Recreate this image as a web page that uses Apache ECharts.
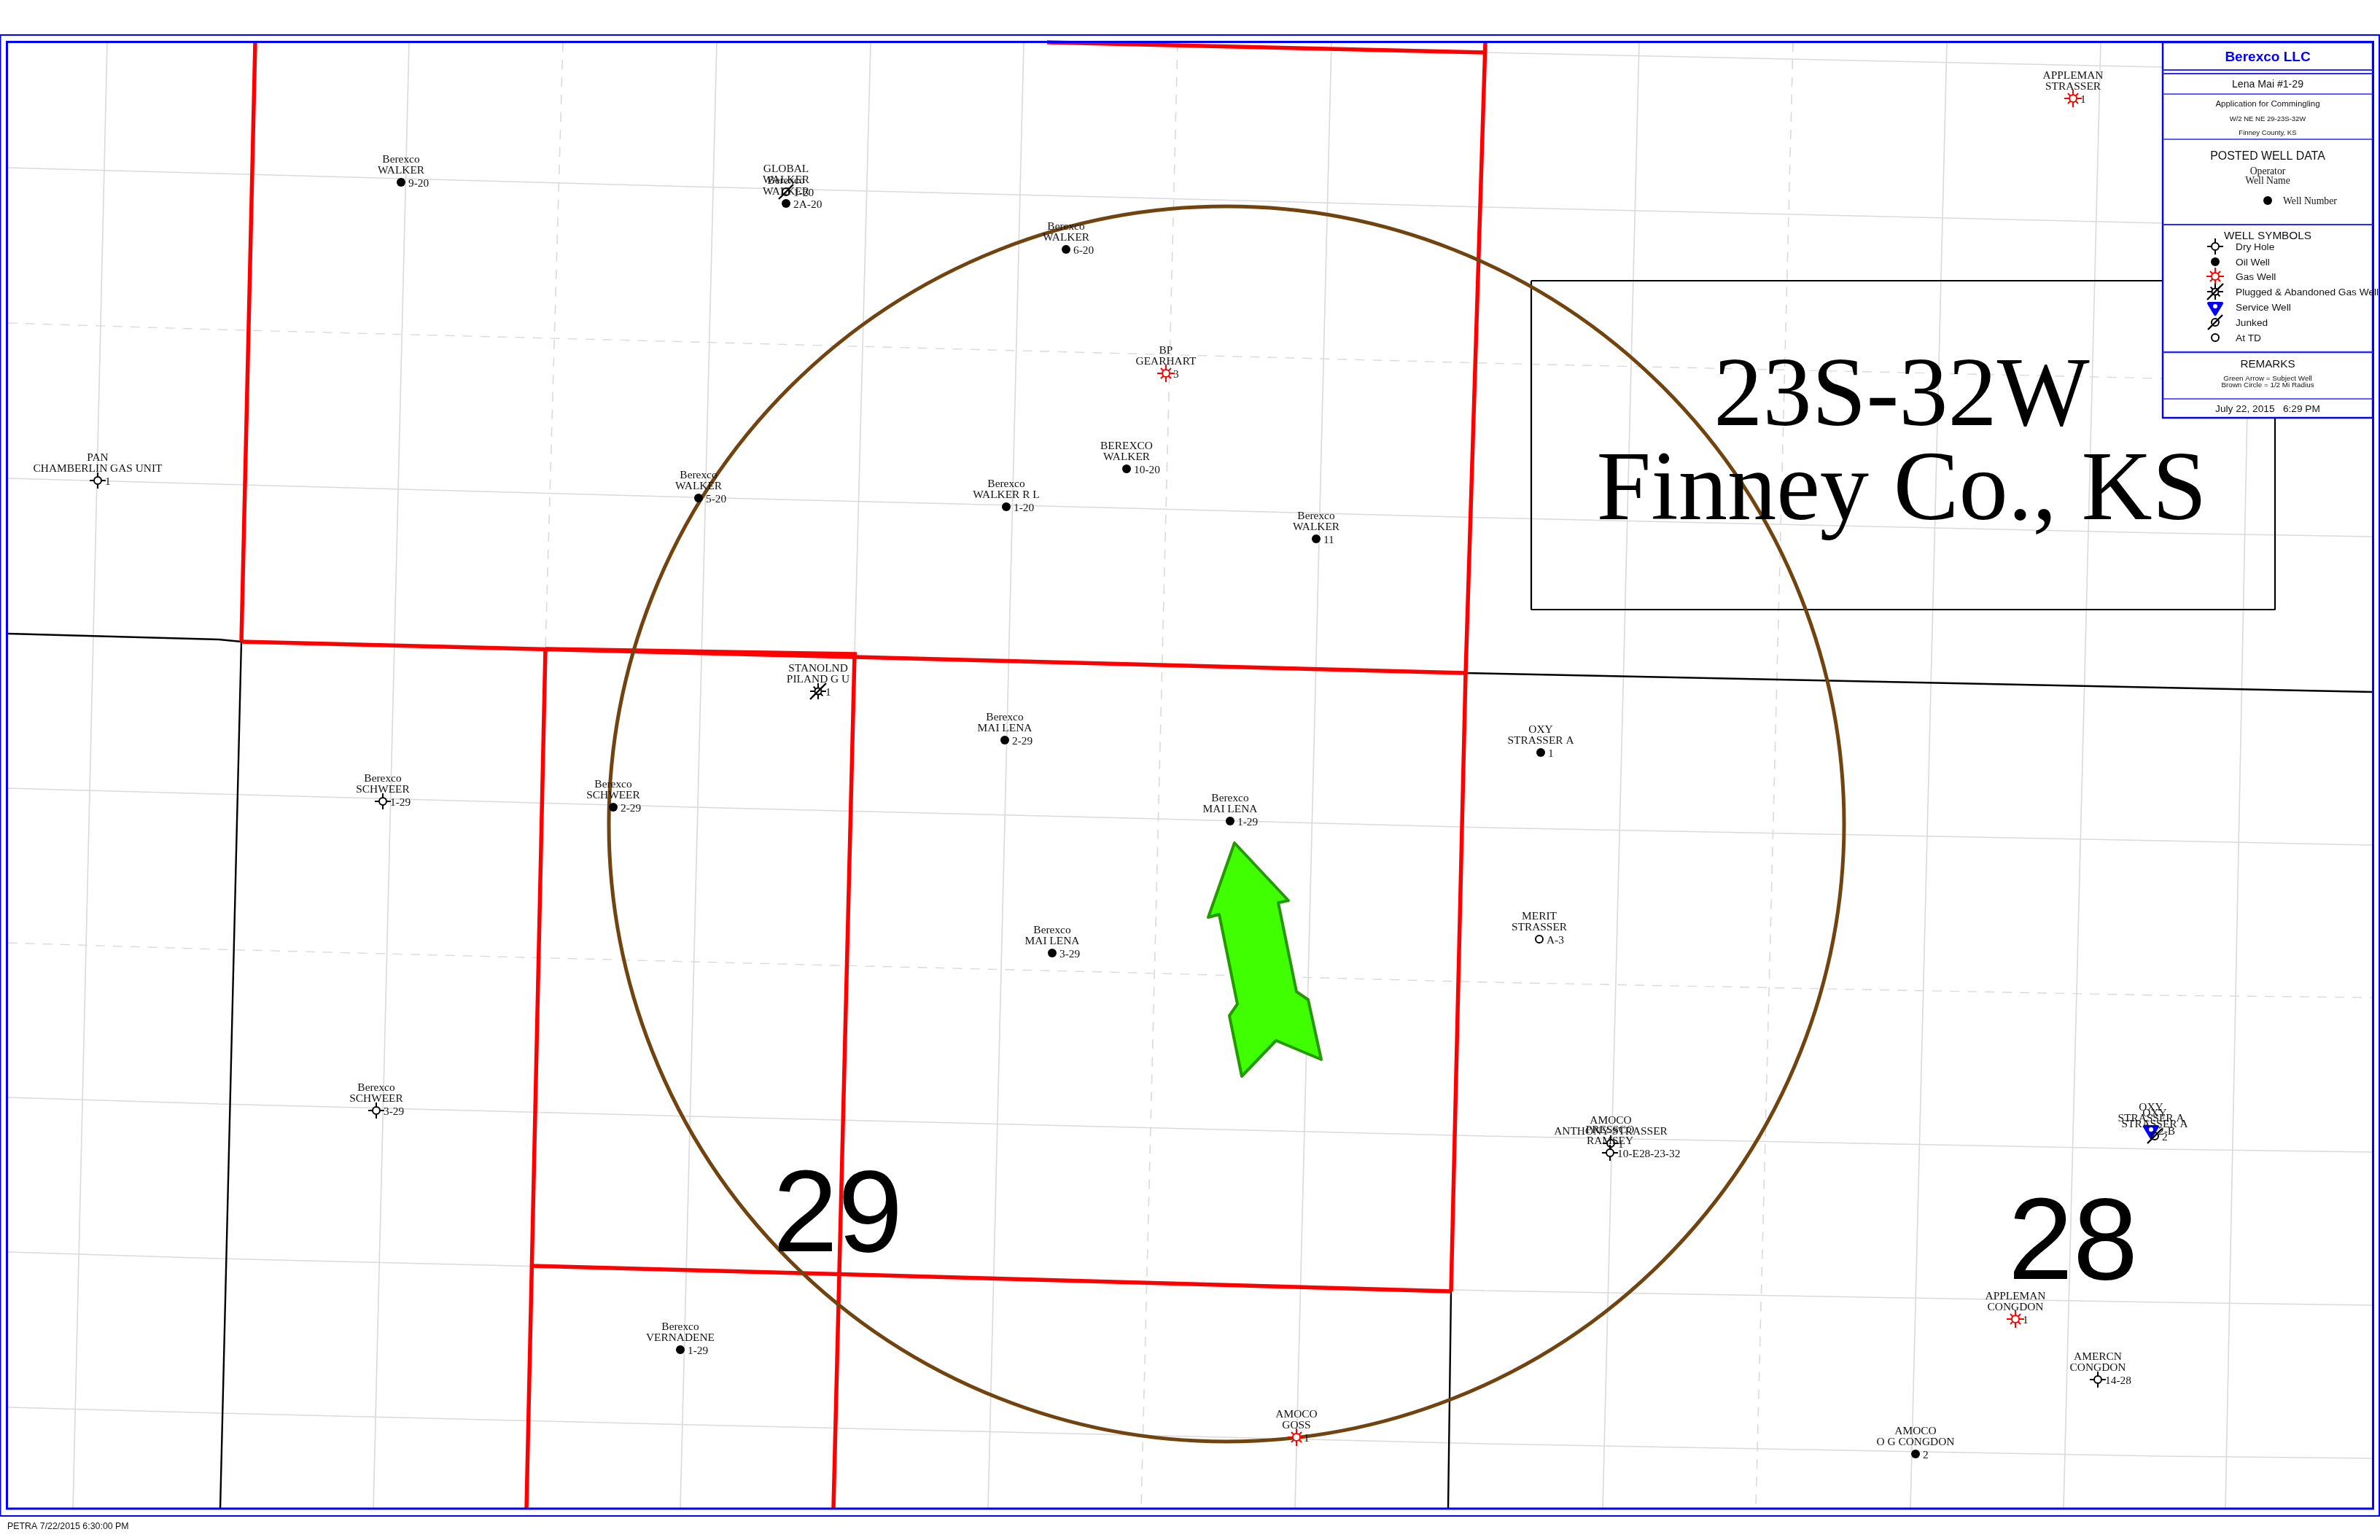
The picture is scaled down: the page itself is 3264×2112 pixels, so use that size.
<!DOCTYPE html>
<html>
<head>
<meta charset="utf-8">
<title>Lena Mai #1-29</title>
<style>html,body{margin:0;padding:0;background:#fff}#c{width:3264px;height:2112px}</style>
<script src="https://cdn.jsdelivr.net/npm/echarts@6/dist/echarts.min.js"></script>
</head>
<body>
<div id="c"></div>
<script>
// ---------- map values (map units = sheet pixels) ----------
const rowX = [11, 300, 950, 1550, 2037, 2964, 3254];
const rowSolid0 = [230, 238, 256, 271, 284, 306, 311];
const rowDash1  = [443, 452, 469, 485, 498, 519, 524];
const rowSolid2 = [656, 664, 682, 697, 710, 731, 736];
const rowSolid4 = [1081, 1089, 1107, 1122, 1135, 1153, 1159];
const rowDash5  = [1293, 1302, 1319, 1334, 1347, 1365, 1368];
const rowSolid6 = [1505, 1514, 1531, 1546, 1558, 1576, 1580];
const rowSolid7 = [1717, 1726, 1742, 1757, 1770, 1786, 1790];
const rowSolid8 = [1930, 1938, 1954, 1968, 1980, 1997, 2000];
const rowTopGray = [[2037, 72], [2964, 92], [3254, 97]];

const colTopX    = [147, 350, 561, 772, 983, 1194, 1404, 1615, 1826, 2037, 2248, 2459, 2670, 2881, 3092];
const colBottomX = [100, 302, 512, 722, 933, 1143, 1355, 1565, 1776, 1986, 2198, 2408, 2620, 2830, 3052];
const colStyles  = ['s', 'section', 's', 'redLower', 's', 'redLower2', 's', 'd', 's', 'section2', 's', 'd', 's', 's', 's'];

const redLines = [
  [[350, 58], [331, 880]],
  [[331, 880], [1172, 901], [2010, 923]],
  [[748, 890], [1175, 897]],
  [[2037, 58], [2010, 923], [1990, 1771]],
  [[1436, 58], [2037, 72]],
  [[748, 890], [722, 2069]],
  [[1172, 897], [1143, 2069]],
  [[729, 1736], [1172, 1748], [1990, 1771]]
];
const blackLines = [
  [[331, 880], [302, 2069]],
  [[1990, 1771], [1986, 2069]],
  [[11, 869], [300, 877], [331, 880]],
  [[2010, 923], [2964, 943], [3254, 949]]
];
const textBoxCorners = [[2100, 385], [3120, 385], [3120, 836], [2100, 836], [2100, 385]];

const radiusCircleCenter = [1682, 1130];
const radiusCircleRadius = [847];

const arrowX = [1693, 1767, 1753, 1778, 1794, 1812, 1750, 1703, 1686, 1697, 1672, 1657];
const arrowY = [1156, 1235, 1238, 1360, 1371, 1453, 1427, 1476, 1393, 1377, 1254, 1258];

const mapLabelTexts = ['23S-32W', 'Finney Co., KS', '29', '28'];
const mapLabelX = [2608, 2608, 1149, 2843];
const mapLabelY = [546, 675, 1670, 1708];

const wellOperators = ['Berexco','GLOBAL','Berexco','Berexco','BP','APPLEMAN','PAN','Berexco','Berexco','BEREXCO','Berexco','STANOLND','Berexco','OXY','Berexco','Berexco','Berexco','Berexco','MERIT','Berexco','AMOCO','PRESSCO','OXY','OXY','Berexco','AMOCO','APPLEMAN','AMERCN','AMOCO'];
const wellNames = ['WALKER','WALKER','WALKER','WALKER','GEARHART','STRASSER','CHAMBERLIN GAS UNIT','WALKER','WALKER R L','WALKER','WALKER','PILAND G U','MAI LENA','STRASSER A','MAI LENA','SCHWEER','SCHWEER','MAI LENA','STRASSER','SCHWEER','ANTHONY-STRASSER','RAMSEY','STRASSER A','STRASSER A','VERNADENE','GOSS','CONGDON','CONGDON','O G CONGDON'];
const wellNumbers = ['9-20','1-20','2A-20','6-20','3','1','1','5-20','1-20','10-20','11','1','2-29','1','1-29','1-29','2-29','3-29','A-3','3-29','1','10-E28-23-32','2-B','2','1-29','1','1','14-28','2'];
const wellTypes = ['oil','junked','oil','oil','gas','gas','dry','oil','oil','oil','oil','pagas','oil','oil','oil','dry','oil','oil','td','dry','dry','dry','service','junked','oil','gas','gas','dry','oil'];
const wellX = [550,1078,1078,1462,1599,2843,134,958,1380,1545,1805,1122,1378,2113,1687,525,841,1443,2111,516,2209,2208,2950,2955,933,1778,2764,2877,2627];
const wellY = [250,263,279,342,512,135,659,683,695,643,739,948,1015,1032,1126,1099,1107,1307,1288,1523,1568,1581,1550,1558,1851,1971,1809,1892,1994];

// ---------- text of the title block ----------
const titleCompany = 'Berexco LLC';
const titleWell = 'Lena Mai #1-29';
const titleLines = ['Application for Commingling', 'W/2 NE NE 29-23S-32W', 'Finney County, KS'];
const postedTitle = 'POSTED WELL DATA';
const postedLines = ['Operator', 'Well Name', 'Well Number'];
const symbolsTitle = 'WELL SYMBOLS';
const symbolNames = ['Dry Hole', 'Oil Well', 'Gas Well', 'Plugged & Abandoned Gas Well', 'Service Well', 'Junked', 'At TD'];
const symbolTypes = ['dry', 'oil', 'gas', 'pagas', 'service', 'junked', 'td'];
const remarksTitle = 'REMARKS';
const remarksLines = ['Green Arrow = Subject Well', 'Brown Circle = 1/2 Mi Radius'];
const dateLine = 'July 22, 2015   6:29 PM';
const footerLine = 'PETRA 7/22/2015 6:30:00 PM';

// ---------- styles ----------
const GRAY = '#dadada', RED = '#ff0000', BLUE = '#0000ff', BROWN = '#71430f', BLACK = '#000000', INK = '#111111';
const SERIF = '"Liberation Serif", serif', SANS = '"Liberation Sans", sans-serif';

function seg(x1, y1, x2, y2, color, w) {
  return { type: 'line', shape: { x1, y1, x2, y2 }, style: { stroke: color, lineWidth: w, fill: null } };
}
function ring(r, color, w, fill) {
  return { type: 'circle', shape: { cx: 0, cy: 0, r }, style: { stroke: color, lineWidth: w, fill: fill || '#ffffff' } };
}
function rays(color, w, a, b) {
  const s = 0.707 * (b - 2), t = 0.707 * a;
  return [
    seg(-b, 0, -a, 0, color, w), seg(a, 0, b, 0, color, w), seg(0, -b, 0, -a, color, w), seg(0, a, 0, b, color, w),
    seg(-s, -s, -t, -t, color, w), seg(t, t, s, s, color, w), seg(s, -s, t, -t, color, w), seg(-t, t, -s, s, color, w)
  ];
}
function wellSymbol(type) {
  switch (type) {
    case 'oil': return [{ type: 'circle', shape: { cx: 0, cy: 0, r: 6 }, style: { fill: BLACK } }];
    case 'td': return [ring(5, BLACK, 2)];
    case 'dry': return [seg(-11, 0, -5, 0, BLACK, 2), seg(5, 0, 11, 0, BLACK, 2), seg(0, -11, 0, -5, BLACK, 2), seg(0, 5, 0, 11, BLACK, 2), ring(5, BLACK, 2)];
    case 'gas': return rays(RED, 2, 5, 12).concat([ring(5, RED, 2)]);
    case 'pagas': return rays(BLACK, 2, 5, 11).concat([ring(4.5, BLACK, 2), seg(-11, 11, 11, -11, BLACK, 2.4)]);
    case 'junked': return [ring(5, BLACK, 2, 'rgba(255,255,255,0)'), seg(-10, 10, 10, -10, BLACK, 2.4)];
    case 'service': return [
      { type: 'polygon', shape: { points: [[-9, -5], [9, -5], [0, 10]] }, style: { fill: BLUE, stroke: BLUE, lineWidth: 4, lineJoin: 'round' } },
      { type: 'circle', shape: { cx: 0, cy: -1, r: 3 }, style: { fill: '#ffffff' } }
    ];
  }
  return [];
}
function txt(text, x, y, size, family, fill, align, weight) {
  return { type: 'text', x: 0, y: 0, style: { text, x, y: y + 1.5, fontSize: size, fontFamily: family, fontWeight: weight || 'normal', fill: fill || INK, align: align || 'center', verticalAlign: 'middle' } };
}
function withZ(el, z) {
  el.z = z; el.silent = true;
  if (el.children) el.children.forEach(c => withZ(c, z));
  return el;
}

// ---------- series ----------
const series = [];
function addLine(points, color, width, dash, z) {
  series.push({ type: 'line', data: points, symbol: 'none', silent: true, z, animation: false, clip: false,
    lineStyle: { color, width, type: dash ? [13, 11] : 'solid', cap: 'butt' } });
}
function rowPts(ys) { return rowX.map((x, i) => [x, ys[i]]); }

[rowSolid0, rowSolid2, rowSolid4, rowSolid6, rowSolid7, rowSolid8].forEach(r => addLine(rowPts(r), GRAY, 1.4, false, 2));
[rowDash1, rowDash5].forEach(r => addLine(rowPts(r), GRAY, 1.4, true, 2));
addLine(rowTopGray, GRAY, 1.4, false, 2);

colTopX.forEach((tx, i) => {
  const bx = colBottomX[i], st = colStyles[i];
  if (st === 's') addLine([[tx, 58], [bx, 2069]], GRAY, 1.6, false, 2);
  if (st === 'd') addLine([[tx, 58], [bx, 2069]], GRAY, 1.6, true, 2);
  if (st === 'redLower') addLine([[tx, 58], [748, 890]], GRAY, 1.6, true, 2);
  if (st === 'redLower2') addLine([[tx, 58], [1172, 897]], GRAY, 1.6, false, 2);
});

blackLines.forEach(l => addLine(l, BLACK, 2.4, false, 3));
addLine(textBoxCorners, BLACK, 2.2, false, 3);
redLines.forEach(l => addLine(l, RED, 5.5, false, 4));

series.push({
  type: 'custom', z: 5, silent: true, animation: false, clip: false,
  data: [[radiusCircleCenter[0], radiusCircleCenter[1], radiusCircleRadius[0]]],
  renderItem(p, api) {
    const c = api.coord([api.value(0), api.value(1)]);
    const r = api.size([api.value(2), 0])[0];
    return { type: 'circle', shape: { cx: c[0], cy: c[1], r }, style: { fill: 'rgba(0,0,0,0)', stroke: BROWN, lineWidth: 5 } };
  }
});

series.push({
  type: 'custom', z: 6, silent: true, animation: false, clip: false,
  data: arrowX.map((x, i) => [x, arrowY[i]]),
  renderItem(p, api) {
    if (p.dataIndex !== 0) return null;
    const points = arrowX.map((x, i) => api.coord([x, arrowY[i]]));
    return { type: 'polygon', shape: { points }, style: { fill: '#40ff00', stroke: '#249a00', lineWidth: 4, lineJoin: 'round' } };
  }
});

series.push({
  type: 'custom', z: 7, silent: true, animation: false, clip: false,
  data: mapLabelTexts.map((t, i) => [mapLabelX[i], mapLabelY[i], i]),
  renderItem(p, api) {
    const i = api.value(2), c = api.coord([api.value(0), api.value(1)]);
    const big = i < 2;
    return txt(mapLabelTexts[i], c[0], c[1], big ? 134.5 : 160, big ? SERIF : SANS, BLACK);
  }
});

series.push({
  type: 'custom', z: 8, silent: true, animation: false, clip: false,
  data: wellX.map((x, i) => [x, wellY[i], i]),
  renderItem(p, api) {
    const i = api.value(2), c = api.coord([api.value(0), api.value(1)]);
    const kids = wellSymbol(wellTypes[i]).concat([
      txt(wellOperators[i], 0, -33, 15.4, SERIF, INK),
      txt(wellNames[i], 0, -18, 15.4, SERIF, INK),
      txt(wellNumbers[i], 10, 0, 15.4, SERIF, INK, 'left')
    ]);
    return { type: 'group', x: c[0], y: c[1], children: kids };
  }
});

// ---------- sheet furniture ----------
const PL = 2966, PR = 3254, PC = 3110;
const panelRules = [[96, 2], [101, 2], [129, 1.5], [191, 1.5], [308, 2], [483, 2.4], [547, 1.5]];
const symbolRowY = [338, 359, 379, 400, 421, 442, 463];
let panel = [
  { type: 'rect', shape: { x: PL, y: 58, width: PR - PL, height: 515 }, style: { fill: '#ffffff', stroke: BLUE, lineWidth: 2.4 } }
];
panelRules.forEach(r => panel.push(seg(PL, r[0], PR, r[0], '#2a2aff', r[1])));
panel.push(
  txt(titleCompany, PC, 77, 19, SANS, BLUE, 'center', 'bold'),
  txt(titleWell, PC, 115, 14.1, SANS),
  txt(titleLines[0], PC, 141, 11.5, SANS),
  txt(titleLines[1], PC, 162, 9.5, SANS),
  txt(titleLines[2], PC, 181, 9.6, SANS),
  txt(postedTitle, PC, 213, 15.9, SANS),
  txt(postedLines[0], PC, 234, 13.7, SERIF),
  txt(postedLines[1], PC, 247, 13.7, SERIF),
  txt(postedLines[2], 3131, 275, 13.7, SERIF, INK, 'left'),
  txt(symbolsTitle, PC, 322, 15.3, SANS),
  txt(remarksTitle, PC, 498, 15.2, SANS),
  txt(remarksLines[0], PC, 518, 9.85, SANS),
  txt(remarksLines[1], PC, 527, 9.85, SANS),
  txt(dateLine, PC, 560, 13.7, SANS)
);
panel.push({ type: 'group', x: PC, y: 275, children: wellSymbol('oil') });
symbolNames.forEach((name, i) => {
  panel.push({ type: 'group', x: 3038, y: symbolRowY[i], children: wellSymbol(symbolTypes[i]) });
  panel.push(txt(name, 3066, symbolRowY[i], 13.7, SANS, INK, 'left'));
});

const graphicElements = [
  withZ({ type: 'rect', shape: { x: 0.5, y: 48, width: 3262.5, height: 2031 }, style: { fill: 'rgba(0,0,0,0)', stroke: BLUE, lineWidth: 2 } }, 50),
  withZ({ type: 'rect', shape: { x: 9.5, y: 57.5, width: 3245, height: 2011.5 }, style: { fill: 'rgba(0,0,0,0)', stroke: BLUE, lineWidth: 3 } }, 50),
  withZ({ type: 'group', children: panel }, 60),
  withZ(txt(footerLine, 10, 2092, 12.4, SANS, INK, 'left'), 60)
];

const chart = echarts.init(document.getElementById('c'), null, { width: 3264, height: 2112, renderer: 'canvas' });
chart.setOption({
  animation: false,
  backgroundColor: '#ffffff',
  grid: { left: 0, right: 0, top: 0, bottom: 0, containLabel: false },
  xAxis: { type: 'value', min: 0, max: 3264, show: false },
  yAxis: { type: 'value', min: 0, max: 2112, inverse: true, show: false },
  tooltip: { show: false },
  series,
  graphic: { elements: graphicElements }
});
</script>
</body>
</html>
